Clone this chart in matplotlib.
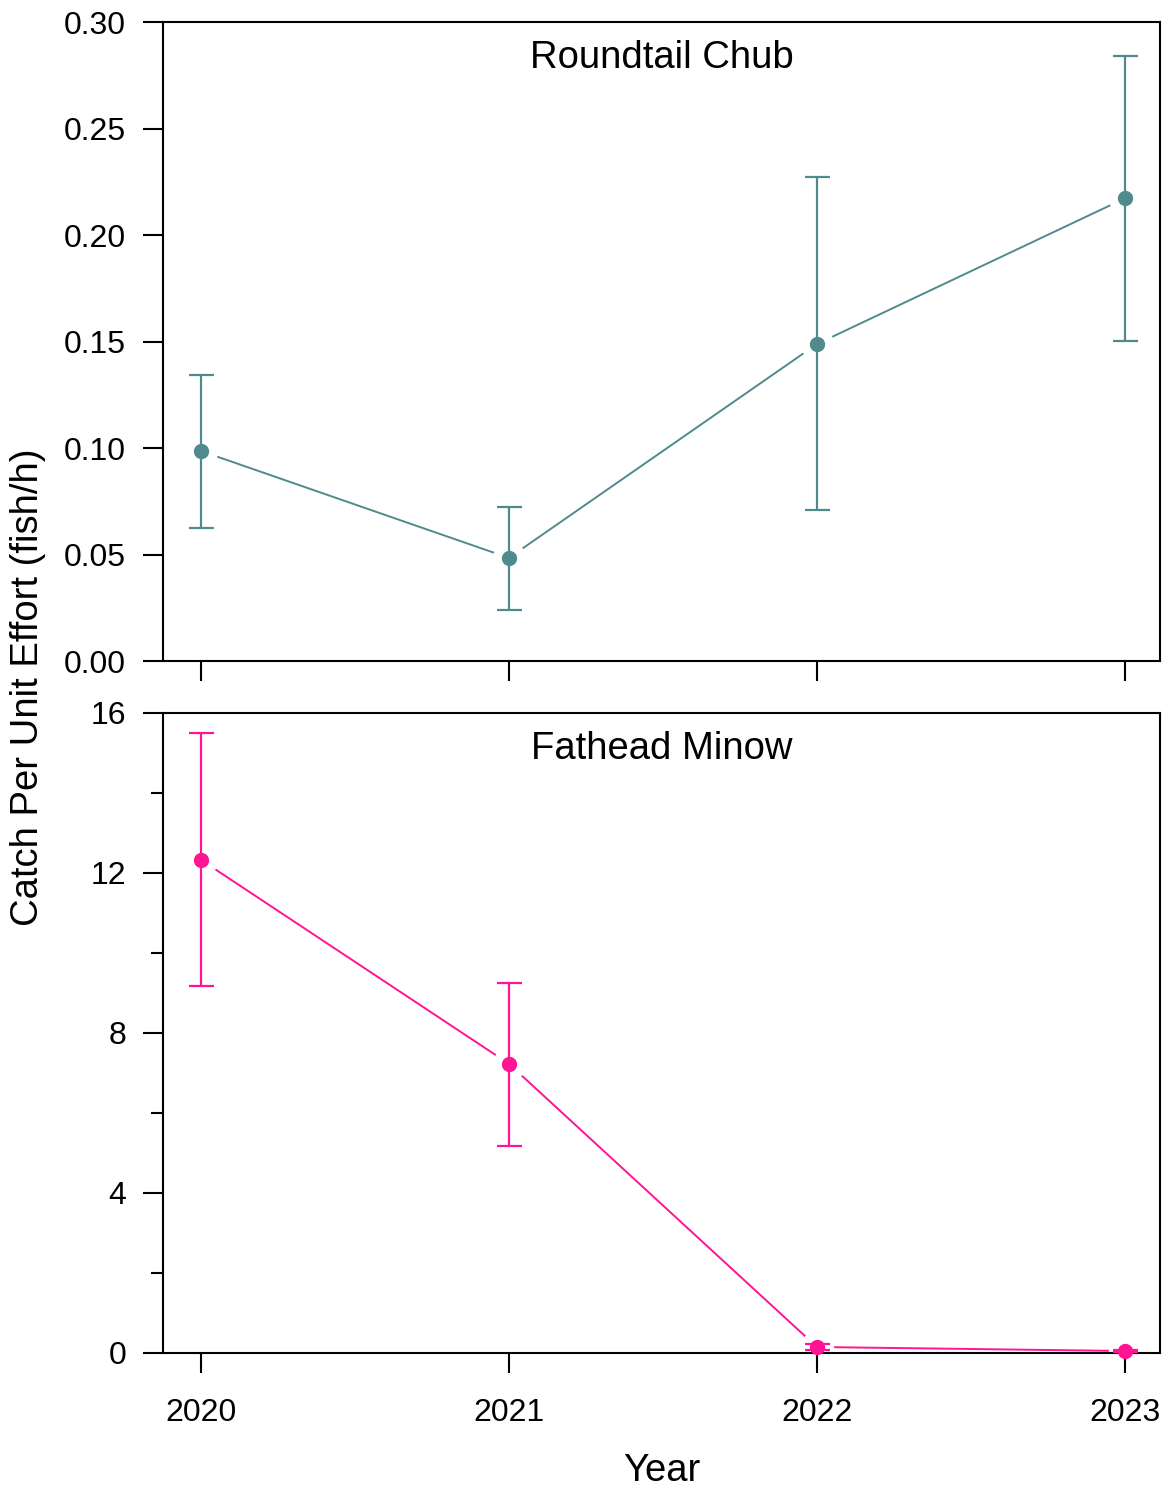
import matplotlib
matplotlib.use("Agg")
import matplotlib.pyplot as plt
from matplotlib.ticker import MultipleLocator

plt.rcParams['font.family'] = ['Liberation Sans', 'DejaVu Sans']

years = [2020, 2021, 2022, 2023]

# Roundtail Chub CPUE (fish/h)
chub_cpue = [0.0986, 0.0484, 0.1488, 0.2172]
chub_lo = [0.0624, 0.0239, 0.0709, 0.1502]
chub_hi = [0.1343, 0.0723, 0.2272, 0.2840]

# Fathead Minow CPUE (fish/h)
minnow_cpue = [12.33, 7.23, 0.15, 0.05]
minnow_lo = [9.18, 5.18, 0.07, 0.02]
minnow_hi = [15.50, 9.25, 0.23, 0.08]

teal = '#4f8b8c'
pink = '#ff1493'


def panel(ax, y, lo, hi, color, title):
    err = [[v - l for v, l in zip(y, lo)], [h - v for v, h in zip(y, hi)]]
    # connecting line with gaps around the markers
    ax.plot(years, y, color=color, lw=1.4, zorder=1, clip_on=False)
    ax.plot(years, y, ls='none', marker='o', ms=24, mfc='white', mec='none',
            zorder=1.5, clip_on=False)
    eb = ax.errorbar(years, y, yerr=err, fmt='o', color=color, ms=10,
                     elinewidth=1.6, capsize=9, capthick=1.6, zorder=3)
    for a in eb.lines[0:1] + tuple(eb.lines[1]) + tuple(eb.lines[2]):
        a.set_clip_on(False)
    ax.set_xlim(2019.877, 2023.114)
    ax.set_xticks(years)
    for s in ax.spines.values():
        s.set_linewidth(1.5)
        s.set_zorder(2.5)
    ax.tick_params(axis='y', which='major', direction='out', length=14.5,
                   width=1.5, labelsize=23, pad=12)
    ax.tick_params(axis='x', which='major', direction='out', length=14.5,
                   width=1.5, labelsize=23, pad=18)
    ax.tick_params(axis='both', which='minor', direction='out', length=9,
                   width=1.5)
    ax.text(0.5, 0.943, title, transform=ax.transAxes, ha='center', va='center',
            fontsize=27.5)


fig = plt.figure(figsize=(11.67, 14.91), dpi=100)
ax1 = fig.add_axes([0.1397, 0.55667, 0.8543, 0.42857])
ax2 = fig.add_axes([0.1397, 0.09256, 0.8543, 0.42924])

panel(ax1, chub_cpue, chub_lo, chub_hi, teal, 'Roundtail Chub')
ax1.set_ylim(0, 0.30)
ax1.set_yticks([0, 0.05, 0.10, 0.15, 0.20, 0.25, 0.30])
ax1.set_yticklabels(['0.00', '0.05', '0.10', '0.15', '0.20', '0.25', '0.30'])
ax1.set_xticklabels([])

panel(ax2, minnow_cpue, minnow_lo, minnow_hi, pink, 'Fathead Minow')
ax2.set_ylim(0, 16)
ax2.set_yticks([0, 4, 8, 12, 16])
ax2.yaxis.set_minor_locator(MultipleLocator(2))
ax2.set_xticklabels([str(y) for y in years])
ax2.set_xlabel('Year', fontsize=27.5, labelpad=18)

fig.text(0.024, 0.539, 'Catch Per Unit Effort (fish/h)', rotation=90,
         ha='center', va='center', fontsize=27.5)

fig.savefig('out.png', dpi=100)
